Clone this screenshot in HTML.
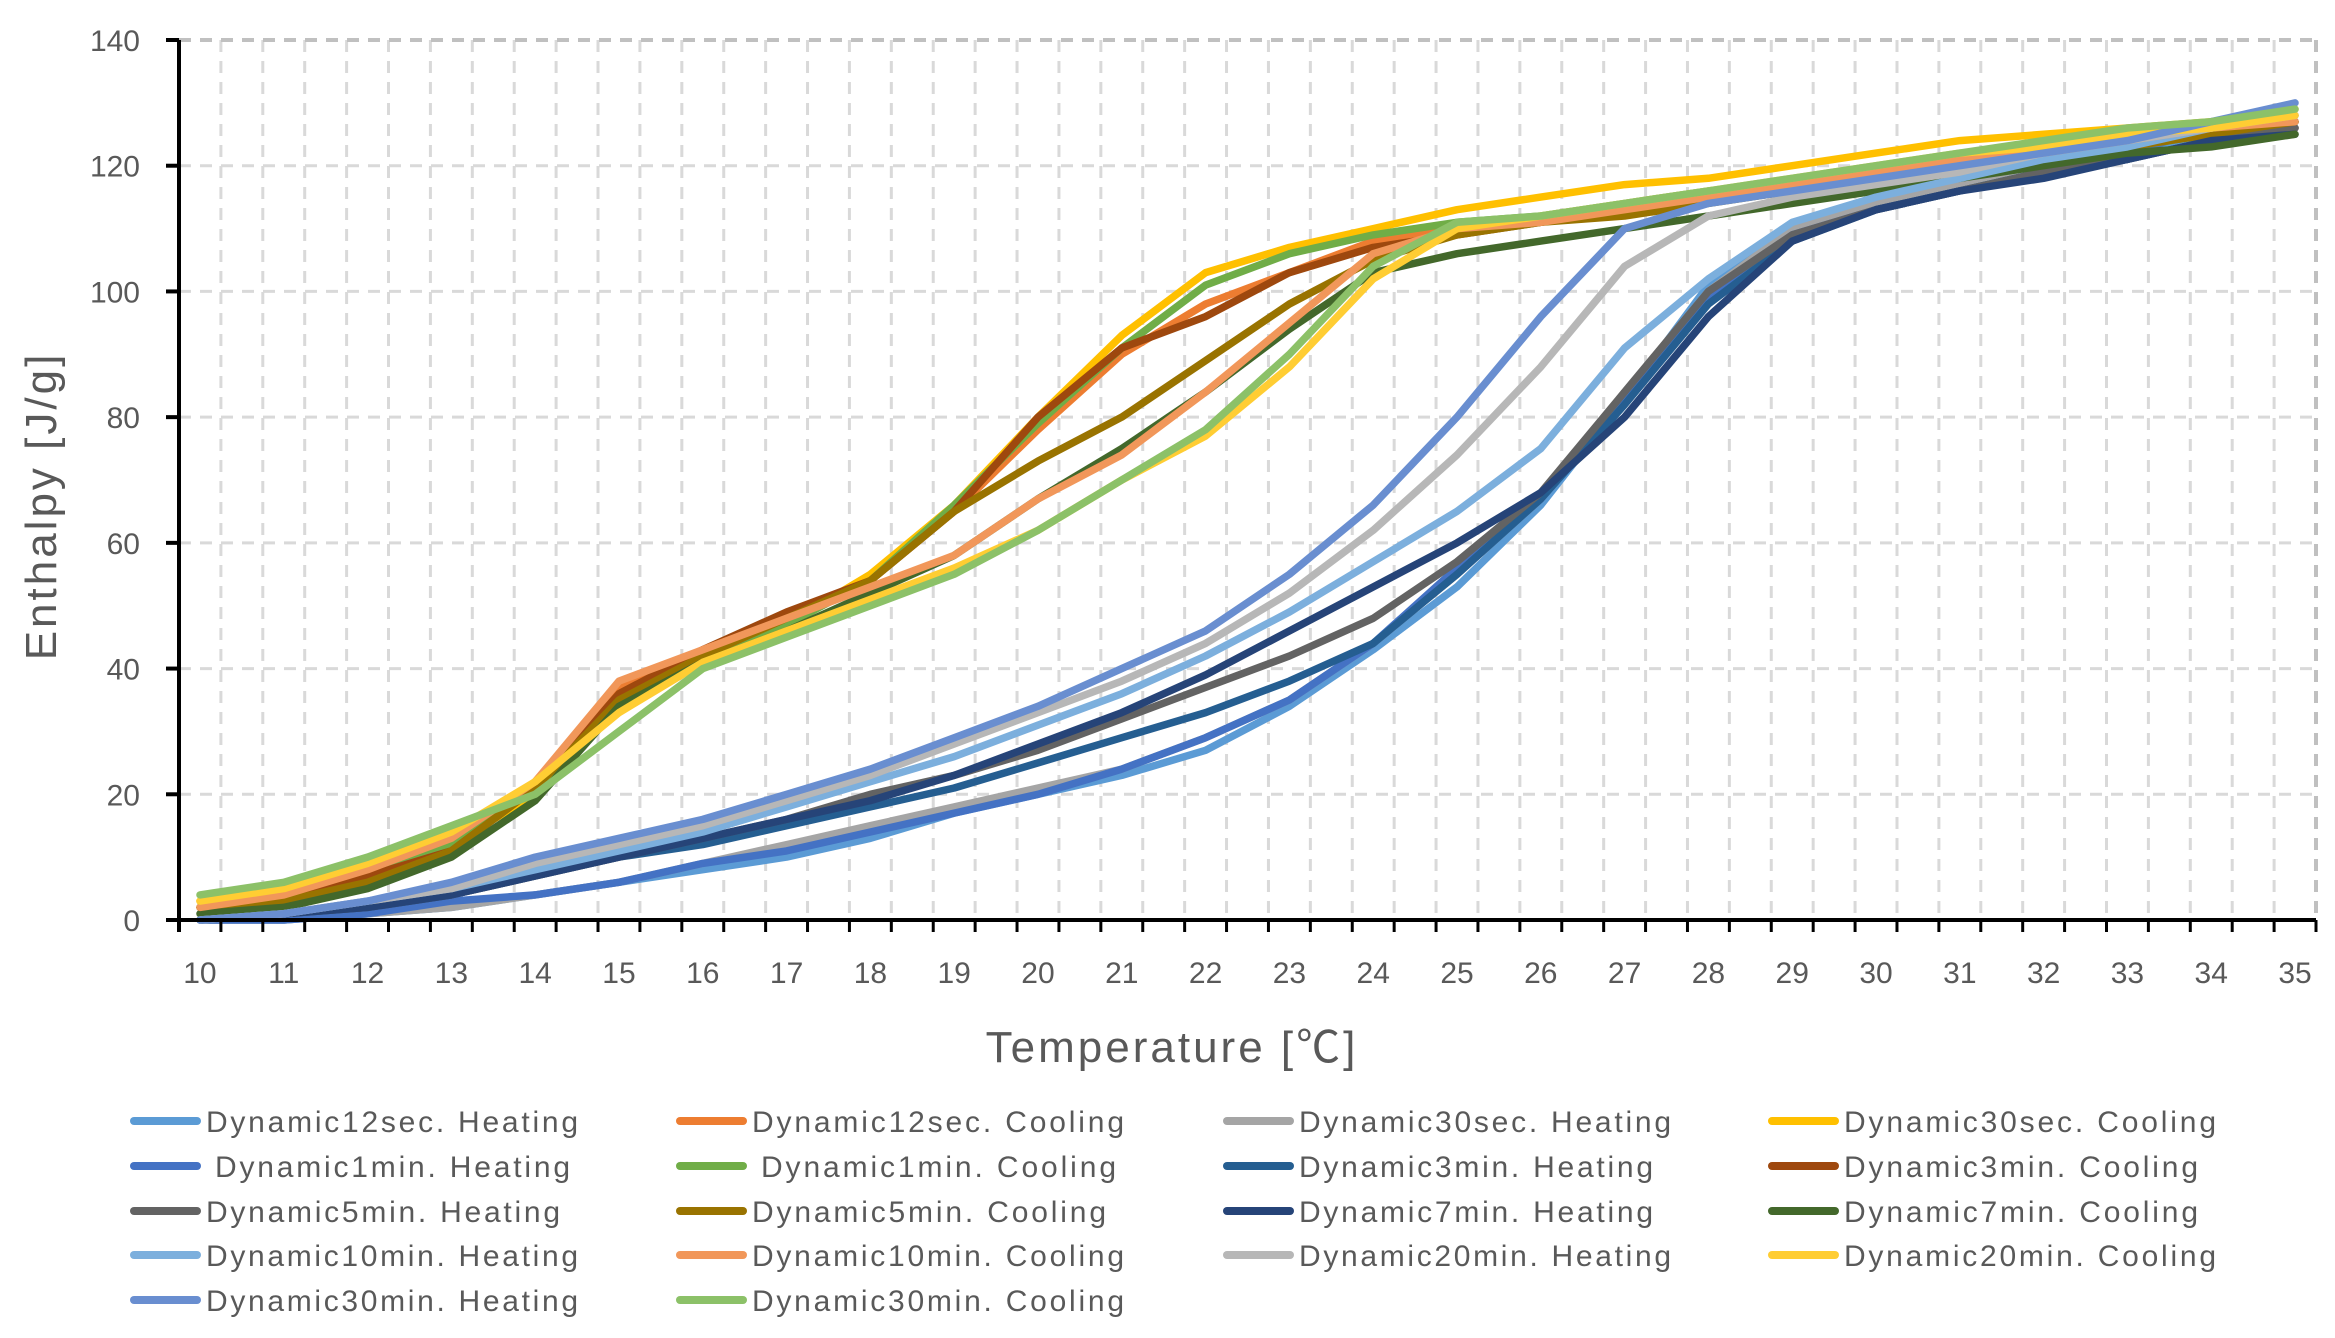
<!DOCTYPE html>
<html><head><meta charset="utf-8"><style>
html,body{margin:0;padding:0;background:#fff;}
svg{display:block;font-family:"Liberation Sans","Noto Sans CJK JP",sans-serif;}
</style></head><body>
<svg id="chart" width="2335" height="1338" viewBox="0 0 2335 1338" xmlns="http://www.w3.org/2000/svg">
<g id="grid"></g>
<g id="series"></g>
<g id="axes"></g>
<g id="legend"></g>
<text x="1172" y="1062" font-size="44" fill="#595959" text-anchor="middle" letter-spacing="3">Temperature [℃]</text>
<text transform="translate(56,506) rotate(-90)" font-size="44" fill="#595959" text-anchor="middle" letter-spacing="3">Enthalpy [J/g]</text>
</svg>
<script>
const temps=[10,11,12,13,14,15,16,17,18,19,20,21,22,23,24,25,26,27,28,29,30,31,32,33,34,35];
const yTicks=[0,20,40,60,80,100,120,140];
const xTickLabels=[10,11,12,13,14,15,16,17,18,19,20,21,22,23,24,25,26,27,28,29,30,31,32,33,34,35];
const names=["Dynamic12sec. Heating","Dynamic12sec. Cooling","Dynamic30sec. Heating","Dynamic30sec. Cooling"," Dynamic1min. Heating"," Dynamic1min. Cooling","Dynamic3min. Heating","Dynamic3min. Cooling","Dynamic5min. Heating","Dynamic5min. Cooling","Dynamic7min. Heating","Dynamic7min. Cooling","Dynamic10min. Heating","Dynamic10min. Cooling","Dynamic20min. Heating","Dynamic20min. Cooling","Dynamic30min. Heating","Dynamic30min. Cooling"];
const colors=["#5B9BD5","#ED7D31","#A5A5A5","#FFC000","#4472C4","#70AD47","#255E91","#9E480E","#636363","#997300","#264478","#43682B","#7CAFDD","#F1975A","#B7B7B7","#FFCD33","#698ED0","#8CC168"];
const h12s=[0,0,1,2,4,6,8,10,13,17,20,23,27,34,43,53,66,83,101,110,114,116,119,121,125,127];
const c12s=[2,3,7,11,22,37,43,48,54,65,78,90,98,103,108,110,111,113,115,117,118,120,122,124,125,126];
const h30s=[0,0,1,2,4,6,9,12,15,18,21,24,29,35,44,55,67,84,100,110,114,117,120,122,126,128];
const c30s=[3,4,8,12,20,34,41,47,55,66,80,93,103,107,110,113,115,117,118,120,122,124,125,126,127,129];
const h1m=[0,0,1,3,4,6,9,11,14,17,20,24,29,35,44,56,67,83,99,109,113,116,119,122,126,127];
const c1m=[2,3,7,12,21,35,42,47,54,66,79,91,101,106,109,111,112,114,116,117,119,120,122,123,125,127];
const h3m=[0,1,2,4,7,10,12,15,18,21,25,29,33,38,44,55,67,82,98,108,113,116,119,121,124,126];
const c3m=[2,3,7,11,21,36,43,49,54,65,80,91,96,103,107,109,111,113,115,117,119,120,122,124,126,127];
const h5m=[0,1,2,4,7,10,13,16,20,23,27,32,37,42,48,57,68,84,100,109,113,116,119,121,124,126];
const c5m=[2,3,6,11,21,35,42,48,54,65,73,80,89,98,105,109,111,112,114,116,118,120,121,123,125,127];
const h7m=[0,1,2,4,7,10,13,16,19,23,28,33,39,46,53,60,68,80,96,108,113,116,118,121,124,125];
const c7m=[1,2,5,10,19,34,41,46,52,58,67,75,84,94,103,106,108,110,112,114,116,118,120,122,123,125];
const h10m=[0,1,3,5,8,11,14,18,22,26,31,36,42,49,57,65,75,91,102,111,115,118,121,123,126,128];
const c10m=[2,4,8,13,22,38,43,48,53,58,67,74,84,95,106,110,111,113,115,117,119,121,122,124,126,127];
const h20m=[0,1,3,5,9,12,15,19,23,28,33,38,44,52,62,74,88,104,112,115,117,119,122,124,126,128];
const c20m=[3,5,9,14,22,33,41,46,51,56,62,70,77,88,102,110,112,114,116,118,120,122,123,125,126,128];
const h30m=[0,1,3,6,10,13,16,20,24,29,34,40,46,55,66,80,96,110,114,116,118,120,122,124,127,130];
const c30m=[4,6,10,15,20,30,40,45,50,55,62,70,78,90,104,111,112,114,116,118,120,122,124,126,127,129];
const seriesData=[h12s,c12s,h30s,c30s,h1m,c1m,h3m,c3m,h5m,c5m,h7m,c7m,h10m,c10m,h20m,c20m,h30m,c30m];

const NS="http://www.w3.org/2000/svg";
const L=179,R=2316,T=40,B=920,nCat=51,cw=(R-L)/nCat;
const xs=t=>L+cw*((t-10)*2+0.5);
const ys=v=>B-(v/140)*(B-T);
function mk(tag,attrs,parent){const e=document.createElementNS(NS,tag);for(const k in attrs)e.setAttribute(k,attrs[k]);parent.appendChild(e);return e;}
const grid=document.getElementById('grid'),axes=document.getElementById('axes'),ser=document.getElementById('series'),leg=document.getElementById('legend');
for(let i=1;i<=nCat;i++){const x=L+cw*i;
 const g=mk('line',{x1:x,x2:x,y1:T,y2:B,stroke:i==nCat?'#C0C0C0':'#D9D9D9','stroke-width':i==nCat?4:3,'stroke-dasharray':'12,9'},grid);
 
 
}
yTicks.forEach(v=>{if(v===0)return;const y=ys(v);
 const g=mk('line',{x1:L,x2:R,y1:y,y2:y,stroke:v==140?'#C0C0C0':'#D9D9D9','stroke-width':v==140?4:3,'stroke-dasharray':'12,9'},grid);
 
 
});
seriesData.forEach((d,si)=>{
 const pts=d.map((v,i)=>xs(temps[i]).toFixed(1)+','+ys(v).toFixed(1)).join(' ');
 const p=mk('polyline',{points:pts,fill:'none',stroke:colors[si],'stroke-width':7.5,'stroke-linejoin':'round','stroke-linecap':'round'},ser);
 
 
});
const ya=mk('line',{x1:L,x2:L,y1:T,y2:B+12,stroke:'#000','stroke-width':4},axes);


const xa=mk('line',{x1:L-13,x2:R,y1:B,y2:B,stroke:'#000','stroke-width':4},axes);


for(let i=0;i<=nCat;i++){const x=L+cw*i;
 const t=mk('line',{x1:x,x2:x,y1:B,y2:B+12,stroke:'#000','stroke-width':3},axes);
 
 
}
yTicks.forEach(v=>{const y=ys(v);
 const t=mk('line',{x1:L-13,x2:L,y1:y,y2:y,stroke:'#000','stroke-width':4},axes);
 
 
 const tx=mk('text',{x:140,y:y+11,'font-size':30,fill:'#595959','text-anchor':'end'},axes);
 tx.textContent=v;
 
 
});
xTickLabels.forEach(v=>{
 const tx=mk('text',{x:xs(v),y:983,'font-size':30,fill:'#595959','text-anchor':'middle'},axes);
 tx.textContent=v;
 
 
});
const colX=[131,677,1224,1769],rowY=[1121,1166,1211,1255,1300];
names.forEach((n,i)=>{const c=i%4,r=Math.floor(i/4);const x=colX[c],y=rowY[r];
 const g=mk('g',{},leg);
 
 
 mk('line',{x1:x+3,x2:x+66,y1:y,y2:y,stroke:colors[i],'stroke-width':8,'stroke-linecap':'round'},g);
 const w=n.startsWith(' ')?355:(n.length*17.7);
 const tx=mk('text',{x:n.startsWith(' ')?x+84:x+75,y:y+11,'font-size':30,fill:'#595959',textLength:Math.round(w),lengthAdjust:'spacing'},g);
 tx.textContent=n.trim();
});
</script>
</body></html>
